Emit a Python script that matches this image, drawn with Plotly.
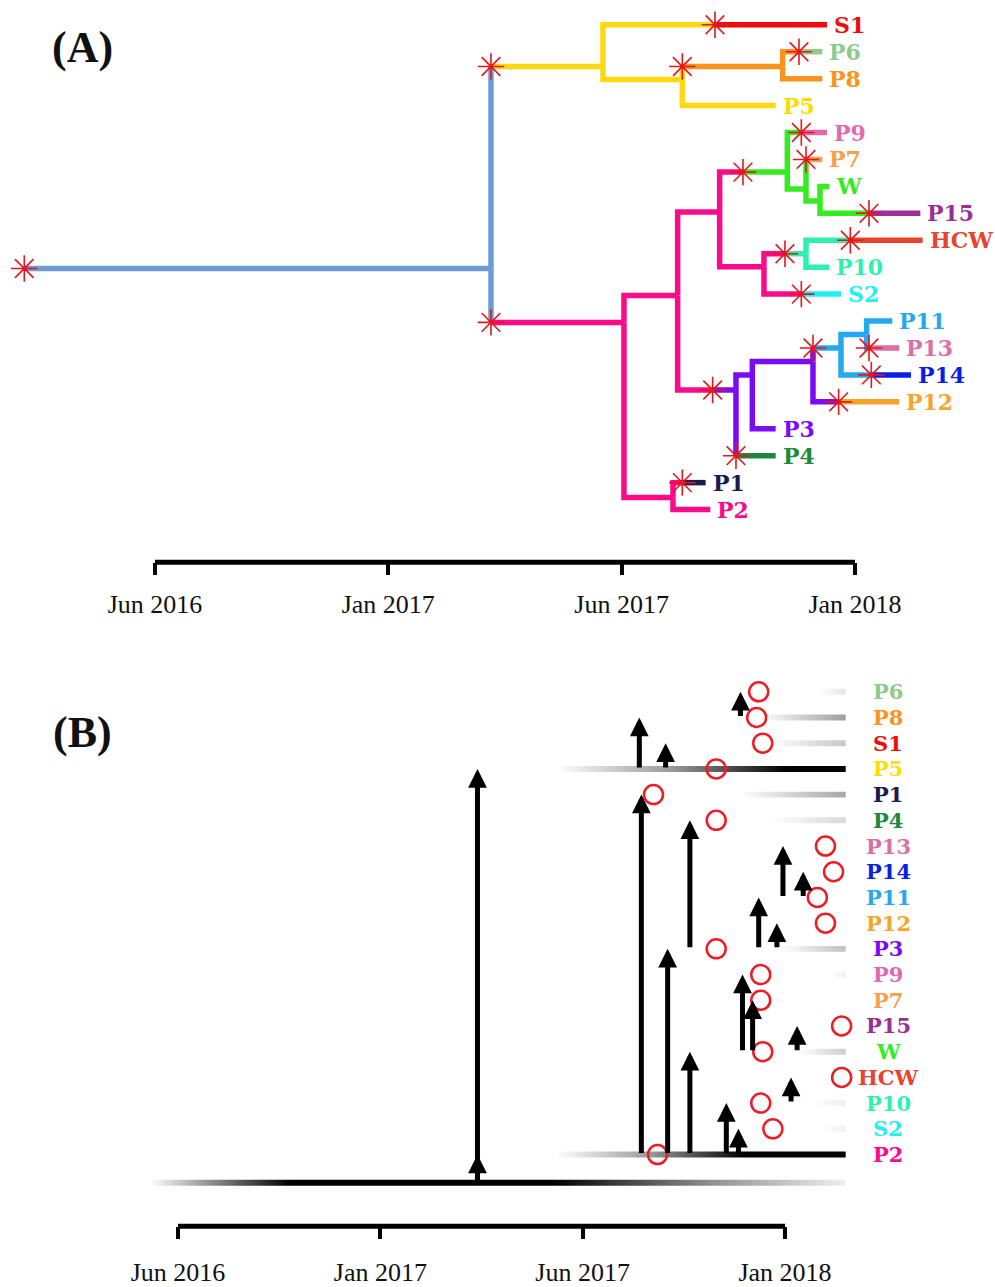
import plotly.graph_objects as go

# ---------------- shared ----------------
TICK_VALUES = [0, 1, 2, 3]
TICK_LABELS = ["Jun 2016", "Jan 2017", "Jun 2017", "Jan 2018"]

SAMPLE_COLORS = {
    "S1": "#f00a0a", "P6": "#8fca8a", "P8": "#f7941d", "P5": "#ffdc00",
    "P9": "#e06aad", "P7": "#f5a04e", "W": "#35ec22", "P15": "#9c2f96",
    "HCW": "#e9432e", "P10": "#2ff0b0", "S2": "#1ff0f5", "P11": "#25a9ec",
    "P13": "#dc6ea8", "P14": "#0a1ee6", "P12": "#f8a42a", "P3": "#7a0cf3",
    "P4": "#1b8a3c", "P1": "#1b1a4f", "P2": "#fb0a8a",
}
CLADE_COLORS = {
    "blue": "#6b9bd2", "yellow": "#ffd814", "pink": "#fb0a8a", "orange": "#f7941d",
    "green": "#35ec22", "teal": "#2ff0b0", "purple": "#7a0cf3", "lightblue": "#25a9ec",
}

# ---------------- panel A : time-scaled tree ----------------
NODE_NAMES = ["root", "n0", "y0", "y1", "s1a", "S1", "y2", "o0", "o1", "p6a", "P6", "P8", "P5",
              "p0", "p1", "p2", "p3", "g0", "g1", "p9a", "P9", "g2", "p7a", "P7", "g3", "W",
              "p15a", "P15", "t0", "t1", "t2", "hcwa", "HCW", "P10", "s2a", "S2",
              "v0", "v1", "v2", "v3", "lb0", "lb1", "lb2", "P11", "p13a", "P13", "p14a", "P14",
              "p12a", "P12", "P3", "p4a", "P4", "q0", "p1a", "P1", "P2"]
NODE_PARENTS = [None, "root", "n0", "y0", "y1", "s1a", "y1", "y2", "o0", "o1", "p6a", "o1", "y2",
                "n0", "p0", "p1", "p2", "p3", "g0", "g1", "p9a", "g1", "g2", "p7a", "g2", "g3",
                "g3", "p15a", "p3", "t0", "t1", "t2", "hcwa", "t2", "t0", "s2a",
                "p2", "v0", "v1", "v2", "v3", "lb0", "lb1", "lb2", "lb2", "p13a", "lb1", "p14a",
                "v3", "p12a", "v2", "v1", "p4a", "p1", "q0", "p1a", "q0"]
NODE_TIMES = [-0.56, 1.44, 1.44, 1.92, 2.40, 2.88, 2.26, 2.26, 2.69, 2.76, 2.86, 2.86, 2.66,
              1.44, 2.01, 2.24, 2.42, 2.52, 2.71, 2.77, 2.88, 2.79, 2.79, 2.86, 2.85, 2.89,
              3.06, 3.28, 2.61, 2.70, 2.79, 2.98, 3.29, 2.89, 2.77, 2.94,
              2.39, 2.49, 2.56, 2.82, 2.82, 2.94, 3.05, 3.16, 3.06, 3.19, 3.07, 3.24,
              2.93, 3.19, 2.66, 2.49, 2.66, 2.22, 2.26, 2.36, 2.38]
NODE_ROWS = [9.05, 9.05, 1.55, 1.55, 0, 0, 2.03, 1.55, 1.55, 1, 1, 2, 3,
             11.05, 11.05, 10.05, 6.95, 5.47, 5.47, 4, 4, 6.1, 5, 5, 6.54, 6,
             7, 7, 8.98, 8.5, 8.5, 8, 8, 9, 10, 10,
             13.56, 13.56, 13.0, 12.5, 12, 12, 11.5, 11, 12, 12, 13, 13,
             14, 14, 15, 16, 16, 17.55, 17, 17, 18]
NODE_BRANCH = ["blue", "blue", "blue", "yellow", "yellow", "S1", "yellow", "yellow", "orange", "orange", "P6", "P8", "yellow",
               "blue", "pink", "pink", "pink", "pink", "green", "green", "P9", "green", "green", "P7", "green", "green",
               "green", "P15", "pink", "pink", "teal", "teal", "HCW", "teal", "pink", "S2",
               "pink", "purple", "purple", "purple", "purple", "lightblue", "lightblue", "lightblue", "lightblue", "P13", "lightblue", "P14",
               "purple", "P12", "purple", "purple", "P4", "pink", "pink", "P1", "pink"]
NODE_MUTATION = [1, 0, 1, 0, 1, 0, 0, 1, 0, 1, 0, 0, 0,
                 1, 0, 0, 0, 1, 0, 1, 0, 0, 1, 0, 0, 0,
                 1, 0, 0, 1, 0, 1, 0, 0, 1, 0,
                 1, 0, 0, 0, 1, 0, 0, 0, 1, 0, 1, 0,
                 1, 0, 0, 1, 0, 0, 1, 0, 0]

# ---------------- panel B : transmission timeline ----------------
B_ORDER = ["P6", "P8", "S1", "P5", "P1", "P4", "P13", "P14", "P11", "P12",
           "P3", "P9", "P7", "P15", "W", "HCW", "P10", "S2", "P2"]
B_SAMPLING = [2.87, 2.86, 2.89, 2.66, 2.35, 2.66, 3.20, 3.24, 3.16, 3.20,
              2.66, 2.88, 2.88, 3.28, 2.89, 3.28, 2.88, 2.94, 2.37]
BAR_SAMPLE = ["P6", "P8", "S1", "P5", "P1", "P4", "P3", "P9", "W", "P10", "S2", "P2"]
BAR_START = [3.17, 2.88, 2.93, 1.87, 2.78, 2.93, 2.98, 3.22, 3.07, 3.14, 3.17, 1.87]
BAR_END = [3.30, 3.30, 3.30, 3.30, 3.30, 3.30, 3.30, 3.30, 3.30, 3.30, 3.30, 3.30]
BAR_ALPHA = [0.10, 0.38, 0.22, 1.0, 0.35, 0.15, 0.25, 0.06, 0.20, 0.07, 0.05, 1.0]
BAR_PEAK = [1.0, 1.0, 1.0, 0.8, 1.0, 1.0, 1.0, 1.0, 1.0, 1.0, 1.0, 0.65]
ROOT_BAR_START = -0.14
ROOT_BAR_END = 3.30
TRANS_TIME = [1.48, 1.48, 2.78, 2.28, 2.41, 2.29, 2.53, 2.53, 2.42, 2.99, 3.09,
              2.87, 2.96, 2.79, 2.84, 3.06, 3.03, 2.71, 2.77]
TRANS_FROM = ["root", "root", "P8", "P5", "P5", "P2", "P3", "P2", "P2", "P11", "P11",
              "P3", "P3", "W", "W", "W", "P10", "P2", "P2"]
TRANS_TO = ["P5", "P2", "P6", "P8", "S1", "P1", "P4", "W", "P3", "P13", "P14",
            "P11", "P12", "P9", "P7", "P15", "HCW", "P10", "S2"]

# ---------------- build figure ----------------
fig = go.Figure()
ALL_COLORS = dict(CLADE_COLORS, **SAMPLE_COLORS)
idx = {n: i for i, n in enumerate(NODE_NAMES)}

groups = {}
for i, name in enumerate(NODE_NAMES):
    par = NODE_PARENTS[i]
    if par is None:
        continue
    j = idx[par]
    xs, ys = groups.setdefault(NODE_BRANCH[i], ([], []))
    xs += [NODE_TIMES[j], NODE_TIMES[j], NODE_TIMES[i], None]
    ys += [NODE_ROWS[j], NODE_ROWS[i], NODE_ROWS[i], None]
for key, (xs, ys) in groups.items():
    fig.add_trace(go.Scatter(x=xs, y=ys, mode="lines", xaxis="x", yaxis="y",
                             line=dict(color=ALL_COLORS[key], width=5.5),
                             hoverinfo="skip", showlegend=False))

mx = [NODE_TIMES[i] for i in range(len(NODE_NAMES)) if NODE_MUTATION[i]]
my = [NODE_ROWS[i] for i in range(len(NODE_NAMES)) if NODE_MUTATION[i]]
fig.add_trace(go.Scatter(x=mx, y=my, mode="markers", xaxis="x", yaxis="y", cliponaxis=False,
                         marker=dict(symbol="asterisk-open", size=22, color="#e3171c",
                                     line=dict(color="#e3171c", width=1.6)),
                         hoverinfo="skip", showlegend=False))

LABEL_FONT = "DejaVu Serif"
for i, name in enumerate(NODE_NAMES):
    if name in SAMPLE_COLORS:
        fig.add_annotation(x=NODE_TIMES[i], y=NODE_ROWS[i], xref="x", yref="y",
                           text="<b>%s</b>" % name, showarrow=False, xanchor="left",
                           yanchor="middle", xshift=5,
                           font=dict(family=LABEL_FONT, size=22, color=SAMPLE_COLORS[name]))

# panel B bars
ROW_PX_B = 25.83
half = 3.0 / ROW_PX_B
brow = {n: i for i, n in enumerate(B_ORDER)}
ROOT_ROW_B = 19.1
for k, name in enumerate(BAR_SAMPLE):
    r = brow[name]
    a = BAR_ALPHA[k]
    p = BAR_PEAK[k]
    if p < 1:
        cs = [[0, "rgba(0,0,0,0)"], [p * 0.5, "rgba(0,0,0,%.3f)" % (0.4 * a)],
              [p, "rgba(0,0,0,%.3f)" % a], [1, "rgba(0,0,0,%.3f)" % a]]
    else:
        cs = [[0, "rgba(0,0,0,0)"], [1, "rgba(0,0,0,%.3f)" % a]]
    x0, x1 = BAR_START[k], BAR_END[k]
    fig.add_trace(go.Scatter(x=[x0, x1, x1, x0, x0], y=[r - half, r - half, r + half, r + half, r - half],
                             mode="none", fill="toself", xaxis="x2", yaxis="y2",
                             fillgradient=dict(type="horizontal", colorscale=cs, start=x0, stop=x1),
                             hoverinfo="skip", showlegend=False))
root_cs = [[0, "rgba(0,0,0,0)"], [0.2, "rgba(0,0,0,1)"], [0.58, "rgba(0,0,0,1)"],
           [0.8, "rgba(0,0,0,0.45)"], [1, "rgba(0,0,0,0.06)"]]
fig.add_trace(go.Scatter(x=[ROOT_BAR_START, ROOT_BAR_END, ROOT_BAR_END, ROOT_BAR_START, ROOT_BAR_START],
                         y=[ROOT_ROW_B - half, ROOT_ROW_B - half, ROOT_ROW_B + half, ROOT_ROW_B + half, ROOT_ROW_B - half],
                         mode="none", fill="toself", xaxis="x2", yaxis="y2",
                         fillgradient=dict(type="horizontal", colorscale=root_cs,
                                           start=ROOT_BAR_START, stop=ROOT_BAR_END),
                         hoverinfo="skip", showlegend=False))

def brow_of(n):
    return ROOT_ROW_B if n == "root" else brow[n]

for t, f, to in zip(TRANS_TIME, TRANS_FROM, TRANS_TO):
    fig.add_annotation(x=t, y=brow_of(to), ax=t, ay=brow_of(f), xref="x2", yref="y2",
                       axref="x2", ayref="y2", text="", showarrow=True, arrowhead=2,
                       arrowsize=0.75, arrowwidth=5, arrowcolor="black", standoff=0,
                       startstandoff=0)

fig.add_trace(go.Scatter(x=B_SAMPLING, y=list(range(len(B_ORDER))), mode="markers",
                         xaxis="x2", yaxis="y2", cliponaxis=False,
                         marker=dict(symbol="circle-open", size=19, color="#ee1c24",
                                     line=dict(color="#ee1c24", width=2.5)),
                         hoverinfo="skip", showlegend=False))

for name in B_ORDER:
    fig.add_annotation(x=3.51, y=brow[name], xref="x2", yref="y2", text="<b>%s</b>" % name,
                       showarrow=False, xanchor="center", yanchor="middle",
                       font=dict(family=LABEL_FONT, size=21, color=SAMPLE_COLORS[name]))

# axis lines
for xr, yr in (("x", "y domain"), ("x2", "y2 domain")):
    fig.add_shape(type="line", xref=xr, yref=yr, x0=TICK_VALUES[0], x1=TICK_VALUES[-1],
                  y0=0, y1=0, line=dict(color="black", width=5), layer="above")

# panel letters (positions given in pixels, converted to paper coordinates)
for txt, px, py in (("(A)", 82, 48), ("(B)", 82, 736)):
    fig.add_annotation(x=px / 995.0, y=1 - py / 1287.0, xref="paper", yref="paper",
                       xanchor="center", yanchor="middle", text="<b>%s</b>" % txt,
                       showarrow=False, font=dict(family="Liberation Serif", size=44, color="#111"))

axis_common = dict(tickvals=TICK_VALUES, ticktext=TICK_LABELS, ticks="outside", ticklen=12,
                   tickwidth=4, tickcolor="black", showgrid=False, zeroline=False, showline=False,
                   tickfont=dict(family="Liberation Serif", size=26, color="#111"), fixedrange=True)
fig.update_layout(
    width=995, height=1287, margin=dict(l=0, r=0, t=0, b=0),
    paper_bgcolor="white", plot_bgcolor="white", showlegend=False,
    xaxis=dict(domain=[0, 1], range=[-0.664, 3.600], anchor="y", ticklabelstandoff=6, **axis_common),
    yaxis=dict(domain=[0.561, 1], range=[19.96, -0.92], visible=False, anchor="x", fixedrange=True),
    xaxis2=dict(domain=[0, 1], range=[-0.880, 4.038], anchor="y2", ticklabelstandoff=11, **axis_common),
    yaxis2=dict(domain=[0.04274, 0.50272], range=[20.79, -2.13], visible=False, anchor="x2", fixedrange=True),
)

fig.write_html("out.html", config={"displayModeBar": False},
               post_script="document.body.style.margin='0';")
